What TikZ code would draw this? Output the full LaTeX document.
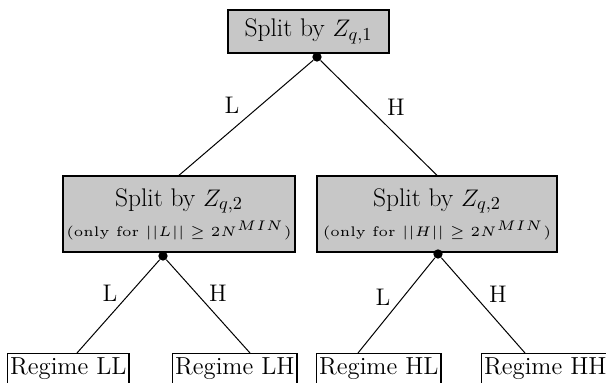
\documentclass[tikz,border=0pt]{standalone}
\usepackage{graphicx}
\usetikzlibrary{calc}

\tikzset{
  splitbox/.style={draw, line width=0.8pt, fill=black!22, font=\fontsize{15.3}{18}\selectfont, align=center, inner sep=2pt},
  regimebox/.style={draw, line width=0.8pt, font=\fontsize{14.8}{18}\selectfont, inner xsep=1.5pt, inner ysep=2pt, text height=10.4pt, text depth=8pt},
  branchdot/.style={circle, fill=black, inner sep=0pt, minimum size=5.6pt},
  branch/.style={line width=0.6pt},
  branchlbl/.style={font=\Large, inner sep=0pt}
}
\newcommand{\onlyfor}[1]{\scalebox{1.67}{\tiny (only for $||#1|| \geq 2N^{MIN}$)}}

\begin{document}
\begin{tikzpicture}[x=0.6pt, y=-0.6pt]
    \useasboundingbox (0,0) rectangle (606,383);

    % Split boxes
    \node[splitbox, minimum width=96.6pt, minimum height=25.8pt] (top) at (308.5,31.5) {Split by $Z_{q,1}$};
    \node[splitbox, minimum width=136.8pt, minimum height=45.6pt] (midL) at (179,214) {Split by $Z_{q,2}$\\\onlyfor{L}};
    \node[splitbox, minimum width=144pt, minimum height=45.6pt] (midH) at (437,214) {Split by $Z_{q,2}$\\\onlyfor{H}};

    % Regime boxes
    \foreach \name/\x/\lbl in {ll/7/LL, lh/172/LH, hl/316/HL, hh/481/HH} {
        \node[regimebox, anchor=north west] (\name) at (\x,353) {Regime \lbl};
      }

    % Branch points
    \node[branchdot] (dot0) at (317,57) {};
    \node[branchdot] (dotL) at (163,256) {};
    \node[branchdot] (dotH) at (438,254) {};

    % Branches
    \draw[branch] (dot0) -- (midL.north);
    \draw[branch] (dot0) -- (midH.north);
    \draw[branch] (dotL) -- ($(ll.north west)+(70,0)$);
    \draw[branch] (dotL) -- ($(lh.north west)+(78,0)$);
    \draw[branch] (dotH) -- ($(hl.north west)+(42,0)$);
    \draw[branch] (dotH) -- ($(hh.north west)+(44,0)$);

    % Branch labels
    \node[branchlbl] (lbl0L) at (232,105) {L};
    \node[branchlbl] (lbl0H) at (396,107) {H};
    \node[branchlbl] (lblLL) at (110,293) {L};
    \node[branchlbl] (lblLH) at (218,293) {H};
    \node[branchlbl] (lblHL) at (383,297) {L};
    \node[branchlbl] (lblHH) at (498,294) {H};
  \end{tikzpicture}
\end{document}
